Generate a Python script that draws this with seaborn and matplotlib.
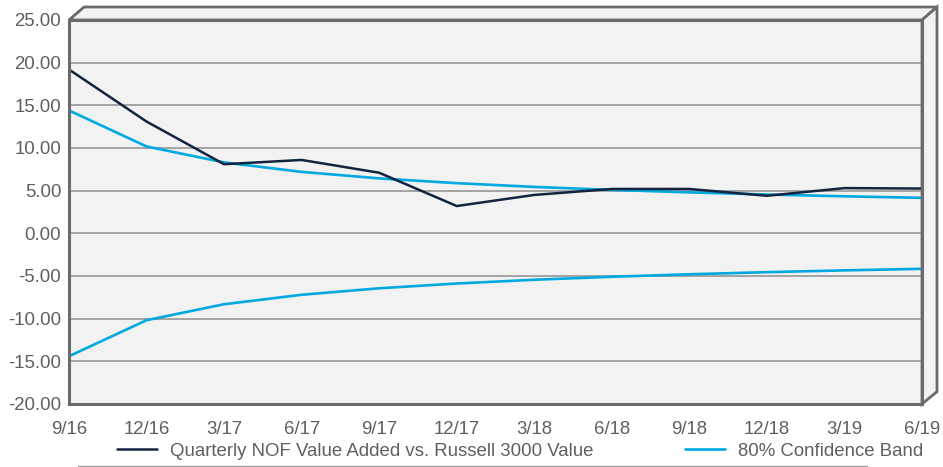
import pandas as pd
import seaborn as sns
import matplotlib.pyplot as plt
from matplotlib.patches import Polygon
from matplotlib.lines import Line2D

# values
quarters = ['9/16', '12/16', '3/17', '6/17', '9/17', '12/17',
            '3/18', '6/18', '9/18', '12/18', '3/19', '6/19']
value_added = [19.2, 13.1, 8.1, 8.6, 7.1, 3.2, 4.5, 5.2, 5.2, 4.4, 5.3, 5.25]
band_upper = [14.40, 10.18, 8.31, 7.20, 6.44, 5.88, 5.44, 5.09, 4.80, 4.55, 4.34, 4.16]
band_lower = [-14.40, -10.18, -8.31, -7.20, -6.44, -5.88, -5.44, -5.09, -4.80, -4.55, -4.34, -4.16]
yticks = [25, 20, 15, 10, 5, 0, -5, -10, -15, -20]

navy = '#132440'
cyan = '#00a9e0'
grey_txt = '#5f5f5f'
frame = '#6b6b6b'
wall = '#f2f2f2'

sns.set_style('white')
plt.rcParams['font.family'] = ['Liberation Sans', 'DejaVu Sans']

df = pd.DataFrame({'quarter': quarters, 'nof': value_added,
                   'upper': band_upper, 'lower': band_lower})

fig = plt.figure(figsize=(9.43, 4.67), dpi=100)
ax = fig.add_axes([69 / 943, 63 / 467, 853 / 943, 384 / 467])
ax.set_facecolor(wall)

# 3D-ish wall: top and right faces
dx, dy = 15 / 853, 13 / 384
top = Polygon([(0, 1), (dx, 1 + dy), (1 + dx, 1 + dy), (1, 1)],
              closed=True, transform=ax.transAxes, clip_on=False,
              facecolor=wall, edgecolor=frame, lw=2, zorder=0.5)
side = Polygon([(1, 1), (1 + dx, 1 + dy), (1 + dx, dy * 0.95), (1, 0)],
               closed=True, transform=ax.transAxes, clip_on=False,
               facecolor=wall, edgecolor=frame, lw=2, zorder=0.5)
ax.add_patch(top)
ax.add_patch(side)

sns.lineplot(data=df, x='quarter', y='upper', ax=ax, color=cyan, lw=1.9,
             sort=False, label='80% Confidence Band', zorder=3)
sns.lineplot(data=df, x='quarter', y='lower', ax=ax, color=cyan, lw=1.9,
             sort=False, zorder=3)
sns.lineplot(data=df, x='quarter', y='nof', ax=ax, color=navy, lw=1.8,
             sort=False, label='Quarterly NOF Value Added vs. Russell 3000 Value',
             zorder=4)

ax.set_xlim(0, len(quarters) - 1)
ax.set_ylim(-20, 25)
ax.set_yticks(yticks)
ax.set_yticklabels(['{:.2f}'.format(v) for v in yticks])
ax.set_xticks(range(len(quarters)))
ax.set_xticklabels(quarters)
ax.set_xlabel('')
ax.set_ylabel('')
ax.grid(axis='y', color='#8e8e8e', lw=1.1)
ax.set_axisbelow(True)
ax.tick_params(axis='both', length=0, labelsize=13.4, colors=grey_txt)
ax.tick_params(axis='y', pad=5.5)
ax.tick_params(axis='x', pad=12)
for s in ax.spines.values():
    s.set_color(frame)
    s.set_linewidth(2.2)
    s.set_zorder(5)

handles, labels = ax.get_legend_handles_labels()
ax.get_legend().remove()
order = [1, 0]
fig.legend([handles[i] for i in order], [labels[i] for i in order],
           loc='center left', bbox_to_anchor=(117 / 943, 1 - 451 / 467),
           ncol=2, frameon=False, fontsize=13.4, labelcolor=grey_txt,
           handlelength=2.15, handletextpad=0.7, columnspacing=4.9,
           borderpad=0, borderaxespad=0)

fig.add_artist(Line2D([78 / 943, 867 / 943], [1.2 / 467, 1.2 / 467],
                      color='#9a9a9a', lw=1.0, transform=fig.transFigure))

fig.savefig('out.png', dpi=100)
